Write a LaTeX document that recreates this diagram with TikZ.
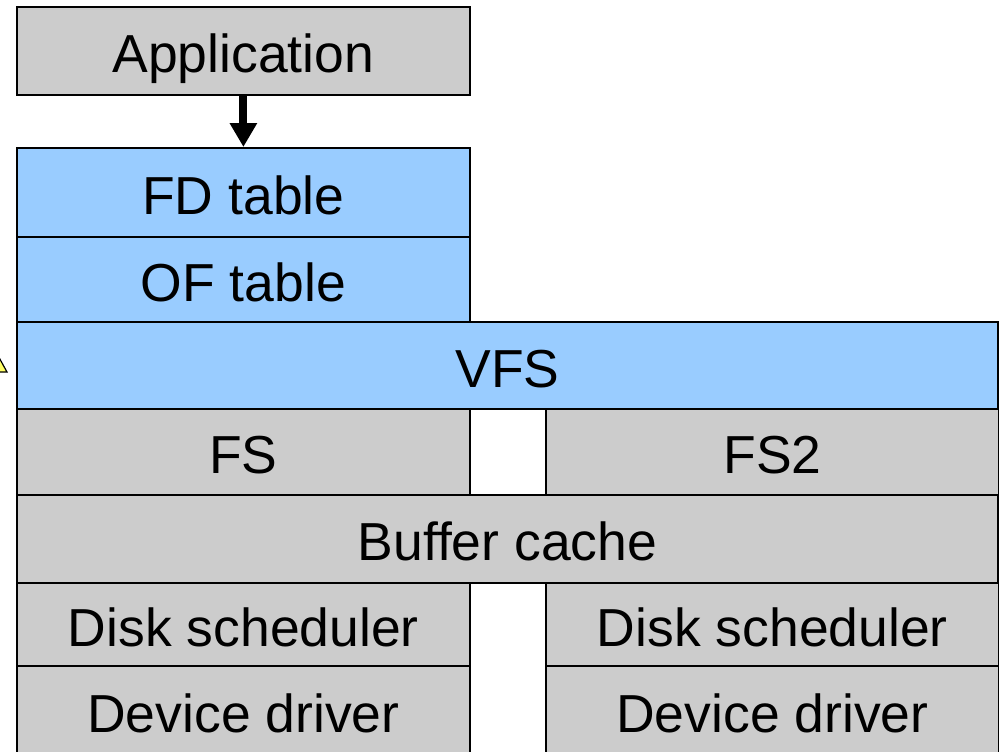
\documentclass[tikz,border=0pt]{standalone}
\usepackage{fontspec}
\setmainfont{Liberation Sans}
\usetikzlibrary{arrows.meta}
\definecolor{boxgray}{HTML}{CCCCCC}
\definecolor{boxblue}{HTML}{99CCFF}
\definecolor{noteyellow}{HTML}{FFFF66}
\tikzset{
  layer/.style={draw=black, line width=1.8pt, inner sep=0pt, anchor=north west,
    text height=44pt, text depth=0pt,
    font=\fontsize{53.5}{60}\selectfont},
  graylayer/.style={layer, fill=boxgray},
  bluelayer/.style={layer, fill=boxblue},
}
\begin{document}
\begin{tikzpicture}[x=1pt, y=-1pt]
  \useasboundingbox (0,0) rectangle (999,752);
  \clip (0,0) rectangle (999,752);
  % small yellow callout tip at the left edge
  \draw[fill=noteyellow, line width=1.2pt] (-4,352) -- (7,372) -- (-4,372) -- cycle;
  % application and per-process tables
  \node[graylayer, minimum width=453pt, minimum height=88pt] (app) at (16,6) {Application};
  \node[bluelayer, minimum width=453pt, minimum height=89pt] (fd) at (16,147) {FD table};
  \node[bluelayer, minimum width=453pt, minimum height=86pt] (of) at (16,236) {OF table};
  % virtual file system
  \node[bluelayer, minimum width=981pt, minimum height=87pt] (vfs) at (16,321) {VFS};
  % file systems
  \node[graylayer, minimum width=453pt, minimum height=86pt] (fs) at (16,408) {FS};
  \node[graylayer, minimum width=453pt, minimum height=86pt] (fs2) at (545,408) {FS2};
  % buffer cache
  \node[graylayer, minimum width=981pt, minimum height=88pt] (bc) at (16,494) {Buffer cache};
  % disk schedulers and device drivers
  \node[graylayer, minimum width=453pt, minimum height=83pt] (ds1) at (16,582) {Disk scheduler};
  \node[graylayer, minimum width=453pt, minimum height=83pt] (ds2) at (545,582) {Disk scheduler};
  \node[graylayer, minimum width=453pt, minimum height=90pt] (dd1) at (16,665) {Device driver};
  \node[graylayer, minimum width=453pt, minimum height=90pt] (dd2) at (545,665) {Device driver};
  % call from the application into the kernel
  \draw[line width=8pt, -{Triangle[length=24pt, width=26pt]}] (app.south) -- (fd.north);
\end{tikzpicture}
\end{document}
